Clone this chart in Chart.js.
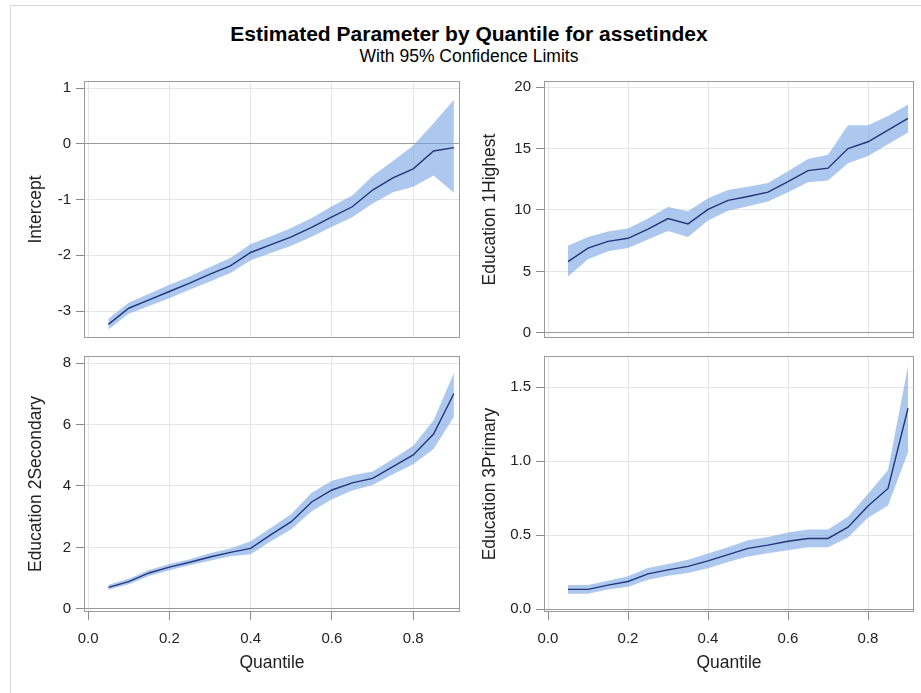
<!DOCTYPE html>
<html>
<head>
<meta charset="utf-8">
<script src="https://cdn.jsdelivr.net/npm/chart.js@4"></script>
<style>
  body { margin: 0; width: 921px; height: 693px; overflow: hidden; background: #fff; position: relative;
         font-family: "Liberation Sans", Arial, sans-serif; }
  #frame { position: absolute; left: 10px; top: 5px; width: 930px; height: 700px; border: 1px solid #d6d6d6; }
  .ttl { position: absolute; left: 0; width: 938px; text-align: center; color: #000; white-space: nowrap; }
  #title { top: 23px; font-size: 21px; line-height: 21px; font-weight: bold; }
  #subtitle { top: 48px; font-size: 17.5px; line-height: 17.5px; }
  canvas { position: absolute; }
</style>
</head>
<body>
<div id="frame"></div>
<canvas id="c1" width="462" height="270" style="left:0;top:70px"></canvas>
<canvas id="c2" width="459" height="270" style="left:462px;top:70px"></canvas>
<canvas id="c3" width="462" height="353" style="left:0;top:340px"></canvas>
<canvas id="c4" width="459" height="353" style="left:462px;top:340px"></canvas>
<div id="title" class="ttl">Estimated Parameter by Quantile for assetindex</div>
<div id="subtitle" class="ttl">With 95% Confidence Limits</div>
<script>
// -- data ------------------------------------------------------------------->
const quantiles = [0.05, 0.10, 0.15, 0.20, 0.25, 0.30, 0.35, 0.40, 0.45,
                   0.50, 0.55, 0.60, 0.65, 0.70, 0.75, 0.80, 0.85, 0.90];
const xTicks = [0, 0.2, 0.4, 0.6, 0.8];

const interceptEst   = [-3.24, -2.95, -2.80, -2.65, -2.50, -2.34, -2.19, -1.95, -1.81,
                        -1.67, -1.50, -1.31, -1.13, -0.83, -0.61, -0.45, -0.13, -0.07];
const interceptLower = [-3.33, -3.05, -2.91, -2.77, -2.62, -2.47, -2.32, -2.09, -1.96,
                        -1.83, -1.67, -1.49, -1.32, -1.07, -0.87, -0.77, -0.57, -0.88];
const interceptUpper = [-3.14, -2.85, -2.69, -2.53, -2.38, -2.21, -2.05, -1.80, -1.66,
                        -1.51, -1.33, -1.12, -0.93, -0.58, -0.31, -0.03, 0.37, 0.79];
const interceptTicks = [-3, -2, -1, 0, 1];

const edu1Est   = [5.8, 6.9, 7.45, 7.7, 8.45, 9.3, 8.87, 10.05, 10.78,
                   11.1, 11.45, 12.3, 13.2, 13.4, 15.0, 15.55, 16.5, 17.45];
const edu1Lower = [4.6, 6.0, 6.65, 6.9, 7.6, 8.3, 7.8, 9.15, 9.93,
                   10.3, 10.7, 11.45, 12.25, 12.4, 13.8, 14.4, 15.35, 16.3];
const edu1Upper = [7.1, 7.8, 8.25, 8.5, 9.3, 10.25, 9.9, 10.95, 11.63,
                   11.9, 12.2, 13.15, 14.15, 14.5, 16.9, 16.9, 17.65, 18.55];
const edu1Ticks = [0, 5, 10, 15, 20];

const edu2Est   = [0.70, 0.89, 1.17, 1.36, 1.52, 1.69, 1.84, 1.97, 2.42,
                   2.84, 3.48, 3.87, 4.10, 4.25, 4.63, 5.01, 5.69, 7.01];
const edu2Lower = [0.62, 0.80, 1.07, 1.26, 1.42, 1.57, 1.71, 1.78, 2.20,
                   2.59, 3.18, 3.57, 3.85, 4.03, 4.38, 4.71, 5.20, 6.25];
const edu2Upper = [0.79, 0.98, 1.27, 1.46, 1.62, 1.81, 1.97, 2.20, 2.64,
                   3.09, 3.78, 4.17, 4.35, 4.47, 4.88, 5.31, 6.14, 7.68];
const edu2Ticks = [0, 2, 4, 6, 8];

const edu3Est   = [0.133, 0.133, 0.162, 0.186, 0.238, 0.265, 0.288, 0.325, 0.368,
                   0.410, 0.432, 0.458, 0.477, 0.477, 0.553, 0.697, 0.815, 1.357];
const edu3Lower = [0.103, 0.103, 0.132, 0.151, 0.198, 0.225, 0.243, 0.275, 0.318,
                   0.355, 0.377, 0.398, 0.417, 0.417, 0.483, 0.617, 0.700, 1.060];
const edu3Upper = [0.163, 0.163, 0.192, 0.221, 0.278, 0.305, 0.333, 0.375, 0.418,
                   0.465, 0.487, 0.518, 0.537, 0.537, 0.623, 0.777, 0.940, 1.640];
const edu3Ticks = [0, 0.5, 1.0, 1.5];

// -- styling ---------------------------------------------------------------->
Chart.defaults.font.family = '"Liberation Sans", Arial, sans-serif';
const lineColor = '#24357a';
const bandColor = 'rgba(116,163,226,0.6)';
const frameColor = '#9a9a9a';
const gridColor = '#e6e6e6';
const textColor = '#222';

// box round the plot area, SAS draws all four sides
const framePlugin = {
    id: 'frame',
    afterDraw(chart) {
        const a = chart.chartArea;
        const ctx = chart.ctx;
        ctx.save();
        ctx.strokeStyle = frameColor;
        ctx.lineWidth = 1;
        ctx.strokeRect(Math.round(a.left) + 0.5, Math.round(a.top) + 0.5,
                       Math.round(a.right - a.left) - 1, Math.round(a.bottom - a.top) - 1);
        ctx.restore();
    }
};

function pts(ys) {
    return quantiles.map((q, i) => ({ x: q, y: ys[i] }));
}

function noPad(s) {
    s.paddingTop = 0; s.paddingBottom = 0; s.paddingLeft = 0; s.paddingRight = 0;
}

function makePanel(id, o) {
    new Chart(document.getElementById(id), {
        type: 'line',
        data: {
            datasets: [
                { data: pts(o.est), borderColor: lineColor, borderWidth: 1.4, pointRadius: 0, fill: false },
                { data: pts(o.lower), borderColor: 'rgba(0,0,0,0)', pointRadius: 0, fill: false },
                { data: pts(o.upper), borderColor: 'rgba(0,0,0,0)', pointRadius: 0, fill: 1, backgroundColor: bandColor }
            ]
        },
        options: {
            responsive: false,
            animation: false,
            events: [],
            layout: { padding: o.pad },
            plugins: { legend: { display: false }, tooltip: { enabled: false } },
            scales: {
                x: {
                    type: 'linear', min: -0.01, max: 0.915,
                    afterBuildTicks: s => { s.ticks = xTicks.map(v => ({ value: v })); },
                    afterFit: s => { s.height = o.bottom ? 61.5 : 0; noPad(s); },
                    border: { display: false },
                    grid: { color: gridColor, tickColor: '#8c8c8c', tickLength: 8, drawTicks: o.bottom },
                    ticks: { display: o.bottom, padding: 10, maxRotation: 0, autoSkip: false,
                             color: textColor, font: { size: 15 }, callback: v => v.toFixed(1) },
                    title: { display: o.bottom, text: 'Quantile', color: textColor,
                             font: { size: 17.5 }, padding: { top: 0, bottom: 0 } }
                },
                y: {
                    min: o.yMin, max: o.yMax,
                    afterBuildTicks: s => { s.ticks = o.yTicks.map(v => ({ value: v })); },
                    afterFit: s => { s.width = o.yWidth; noPad(s); },
                    border: { display: false },
                    grid: { color: c => (c.tick && c.tick.value === 0 ? frameColor : gridColor),
                            tickColor: '#8c8c8c', tickLength: 8 },
                    ticks: { padding: 5, autoSkip: false, color: textColor, font: { size: 15 },
                             callback: o.yFmt },
                    title: { display: true, text: o.title, color: textColor,
                             font: { size: 17.5 }, padding: { top: 0, bottom: 0 } }
                }
            }
        },
        plugins: [framePlugin]
    });
}

const intFmt = v => String(v);
const oneDec = v => v.toFixed(1);

makePanel('c1', { title: 'Intercept', est: interceptEst, lower: interceptLower, upper: interceptUpper,
    yMin: -3.484, yMax: 1.126, yTicks: interceptTicks, yFmt: intFmt, bottom: false,
    pad: { left: 25.5, top: 11, right: 2, bottom: 2 }, yWidth: 58.5 });
makePanel('c2', { title: 'Education 1Highest', est: edu1Est, lower: edu1Lower, upper: edu1Upper,
    yMin: -0.41, yMax: 20.49, yTicks: edu1Ticks, yFmt: intFmt, bottom: false,
    pad: { left: 17.5, top: 11, right: 7, bottom: 2 }, yWidth: 64.5 });
makePanel('c3', { title: 'Education 2Secondary', est: edu2Est, lower: edu2Lower, upper: edu2Upper,
    yMin: -0.1, yMax: 8.23, yTicks: edu2Ticks, yFmt: intFmt, bottom: true,
    pad: { left: 25.5, top: 16, right: 2, bottom: 19.5 }, yWidth: 58.5 });
makePanel('c4', { title: 'Education 3Primary', est: edu3Est, lower: edu3Lower, upper: edu3Upper,
    yMin: -0.02, yMax: 1.71, yTicks: edu3Ticks, yFmt: oneDec, bottom: true,
    pad: { left: 17.5, top: 16, right: 7, bottom: 19.5 }, yWidth: 64.5 });
</script>
</body>
</html>
